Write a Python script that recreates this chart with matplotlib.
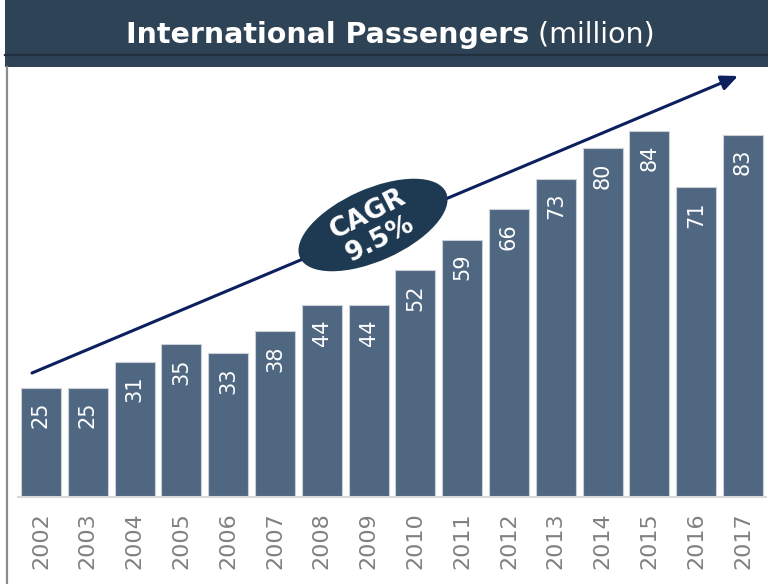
import matplotlib
matplotlib.use("Agg")
import matplotlib.pyplot as plt
from matplotlib.patches import Ellipse, Rectangle
from matplotlib.lines import Line2D

years = ["2002", "2003", "2004", "2005", "2006", "2007", "2008", "2009",
         "2010", "2011", "2012", "2013", "2014", "2015", "2016", "2017"]
passengers = [25, 25, 31, 35, 33, 38, 44, 44, 52, 59, 66, 73, 80, 84, 71, 83]
title_bold = "International Passengers"
title_unit = "(million)"
cagr_text = "CAGR\n9.5%"

W, H = 768, 584
fig = plt.figure(figsize=(W / 100, H / 100), dpi=100)
fig.patch.set_facecolor("white")

def px(x, y):
    """Convert pixel coords (origin top-left) to figure fraction."""
    return x / W, 1 - y / H

# Header band
hdr_bot = 67
fig.add_artist(Rectangle(px(5, hdr_bot), (W - 5) / W, hdr_bot / H,
                         transform=fig.transFigure, facecolor="#2f4356",
                         edgecolor="none", zorder=1))
fig.add_artist(Line2D([5 / W, 1], [1 - 55 / H] * 2, transform=fig.transFigure,
                      color="#22303d", lw=1.6, zorder=2))
# left border
fig.add_artist(Line2D([7 / W, 7 / W], [0, 1 - hdr_bot / H], transform=fig.transFigure,
                      color="#8c8c8c", lw=1.6, zorder=2))

# Title
t1 = fig.text(0, 0, title_bold, color="white", fontsize=20.5, fontweight="bold",
              family="DejaVu Sans", va="center", ha="left", zorder=3)
t2 = fig.text(0, 0, " " + title_unit, color="white", fontsize=20.5,
              family="DejaVu Sans", va="center", ha="left", zorder=3)
fig.canvas.draw()
r = fig.canvas.get_renderer()
w1 = t1.get_window_extent(r).width
w2 = t2.get_window_extent(r).width
x0 = 390 - (w1 + w2) / 2
t1.set_position(px(x0, 35))
t2.set_position(px(x0 + w1, 35))

# Axes: bars
slot = 46.8
first_center = 41
left_px = first_center - slot / 2
right_px = left_px + slot * len(years)
base_px = 497
top_px = hdr_bot
unit_px = (497 - 388) / 25.0
ax = fig.add_axes([left_px / W, 1 - base_px / H, (right_px - left_px) / W,
                   (base_px - top_px) / H])
ax.set_xlim(-0.5, len(years) - 0.5)
ax.set_ylim(0, (base_px - top_px) / unit_px)
xs = list(range(len(years)))
ax.bar(xs, passengers, width=40 / slot, color="#506782", edgecolor="#c9d0d8",
       linewidth=0.8, zorder=2)
for x, v in zip(xs, passengers):
    ax.text(x, v - 14 / unit_px, str(v), rotation=90, ha="center", va="top",
            color="white", fontsize=15, zorder=3)
ax.set_xticks(xs)
ax.set_xticklabels(years, rotation=90, fontsize=16, color="#808080")
ax.tick_params(axis="x", length=0, pad=11)
ax.set_yticks([])
for s in ["top", "right", "left"]:
    ax.spines[s].set_visible(False)
ax.spines["bottom"].set_color("#d9d9d9")
ax.spines["bottom"].set_linewidth(1.5)
ax.set_facecolor("none")

# Growth arrow
ax.annotate("", xy=px(738, 76), xycoords="figure fraction",
            xytext=px(32, 373), textcoords="figure fraction",
            arrowprops=dict(arrowstyle="-|>,head_length=1.0,head_width=0.45",
                            color="#0c1f5e", lw=2.2, shrinkA=0, shrinkB=0),
            annotation_clip=False, zorder=4)

# CAGR badge
cx, cy = 373, 225
badge = Ellipse((cx / 100, (H - cy) / 100), 1.60, 0.72, angle=24,
                transform=fig.dpi_scale_trans, facecolor="#1e3a52",
                edgecolor="none", zorder=5)
fig.add_artist(badge)
fig.text(*px(cx + 1, cy + 2), cagr_text, rotation=27, rotation_mode="anchor",
         ha="center", va="center", color="white", fontsize=19,
         fontweight="bold", linespacing=1.1, zorder=6)

fig.savefig("out.png", dpi=100, facecolor="white")
